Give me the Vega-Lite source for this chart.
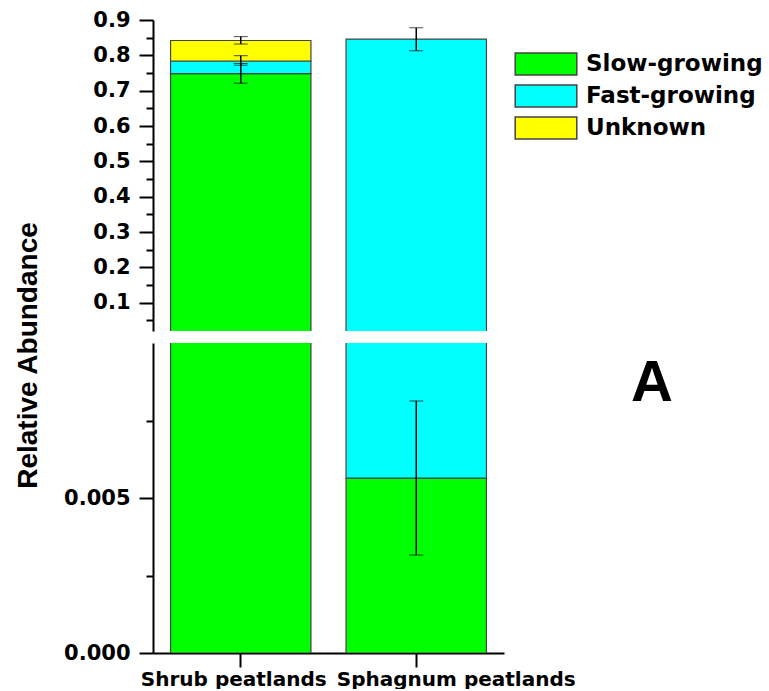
{
  "$schema": "https://vega.github.io/schema/vega-lite/v6.json",
  "padding": {"left": 14, "top": 9, "right": 0, "bottom": 0},
  "background": "white",
  "bounds": "flush",
  "datasets": {
    "bars": [
      {"group": "Shrub peatlands", "category": "Slow-growing", "rank": 1, "value": 0.748},
      {"group": "Shrub peatlands", "category": "Fast-growing", "rank": 2, "value": 0.036},
      {"group": "Shrub peatlands", "category": "Unknown", "rank": 3, "value": 0.058},
      {"group": "Sphagnum peatlands", "category": "Slow-growing", "rank": 1, "value": 0.00564},
      {"group": "Sphagnum peatlands", "category": "Fast-growing", "rank": 2, "value": 0.8404}
    ],
    "errs": [
      {"group": "Shrub peatlands", "category": "Slow-growing", "lo": 0.721, "hi": 0.777},
      {"group": "Shrub peatlands", "category": "Fast-growing", "lo": 0.772, "hi": 0.799},
      {"group": "Shrub peatlands", "category": "Unknown", "lo": 0.832, "hi": 0.853},
      {"group": "Sphagnum peatlands", "category": "Fast-growing", "lo": 0.813, "hi": 0.878},
      {"group": "Sphagnum peatlands", "category": "Slow-growing", "lo": 0.00316, "hi": 0.00813}
    ]
  },
  "config": {
    "view": {"stroke": null},
    "axis": {
      "domainColor": "black", "domainWidth": 2, "tickColor": "black", "tickWidth": 2,
      "labelColor": "black", "labelFont": "DejaVu Sans", "labelFontWeight": "bold", "labelFontSize": 21,
      "grid": false, "labelOverlap": false
    }
  },
  "spacing": 12,
  "vconcat": [
    {
      "width": 351,
      "height": 311,
      "layer": [
        {
          "data": {"name": "bars"},
          "mark": {"type": "bar", "clip": true, "stroke": "#444444", "strokeWidth": 1.2},
          "encoding": {
            "x": {"field": "group", "type": "nominal", "sort": ["Shrub peatlands", "Sphagnum peatlands"],
                  "scale": {"paddingInner": 0.2, "paddingOuter": 0.1}, "axis": null},
            "y": {"field": "value", "type": "quantitative", "stack": "zero",
                  "scale": {"domain": [0.02, 0.9], "zero": false, "nice": false},
                  "axis": {
                    "values": [0.05, 0.1, 0.15, 0.2, 0.25, 0.3, 0.35, 0.4, 0.45, 0.5, 0.55, 0.6, 0.65, 0.7, 0.75, 0.8, 0.85, 0.9],
                    "tickCount": 40,
                    "labelExpr": "round(datum.value*100) % 10 == 5 ? '' : format(datum.value, '.1f')",
                    "tickSize": {"condition": {"test": "round(datum.value*100) % 10 == 5", "value": 7}, "value": 14},
                    "labelPadding": 9, "labelOverlap": false,
                    "title": "Relative Abundance",
                    "titleFont": "Liberation Sans", "titleFontSize": 28, "titleFontWeight": "bold", "titleColor": "black",
                    "titleX": -125, "titleY": 335, "titleBaseline": "middle"
                  }},
            "color": {"field": "category", "type": "nominal",
                      "scale": {"domain": ["Slow-growing", "Fast-growing", "Unknown"], "range": ["#00FF00", "#00FFFF", "#FFFF00"]},
                      "legend": {
                        "title": null, "orient": "none", "legendX": 381, "legendY": 32,
                        "symbolType": "M-2.8,-1H2.8V1H-2.8Z", "symbolSize": 484,
                        "symbolStrokeColor": "#333333", "symbolStrokeWidth": 1.5, "symbolOpacity": 1,
                        "labelFont": "DejaVu Sans", "labelFontWeight": "bold", "labelFontSize": 23, "labelColor": "black",
                        "labelOffset": 28, "rowPadding": 4, "labelLimit": 300, "padding": 0
                      }},
            "order": {"field": "rank"}
          }
        },
        {
          "data": {"name": "errs"},
          "transform": [{"filter": "datum.hi > 0.02"}],
          "mark": {"type": "errorbar", "color": "black", "ticks": {"size": 14, "strokeWidth": 1.5}, "rule": {"strokeWidth": 1.5}},
          "encoding": {
            "x": {"field": "group", "type": "nominal", "sort": ["Shrub peatlands", "Sphagnum peatlands"]},
            "y": {"field": "lo", "type": "quantitative", "title": "Relative Abundance"},
            "y2": {"field": "hi"}
          }
        }
      ]
    },
    {
      "width": 351,
      "height": 310,
      "title": {"text": "A", "orient": "right", "angle": 0, "align": "center", "baseline": "middle", "anchor": "middle",
                "offset": 35, "dy": -114, "fontSize": 58, "font": "Liberation Sans", "fontWeight": "bold", "color": "black"},
      "layer": [
        {
          "data": {"name": "bars"},
          "mark": {"type": "bar", "clip": true, "stroke": "#444444", "strokeWidth": 1.2},
          "encoding": {
            "x": {"field": "group", "type": "nominal", "sort": ["Shrub peatlands", "Sphagnum peatlands"],
                  "scale": {"paddingInner": 0.2, "paddingOuter": 0.1},
                  "axis": {"title": null, "labelAngle": 0, "tickSize": 14, "labelPadding": 2, "labelFontSize": 20,
                           "labelOverlap": false, "labelBound": false, "labelLimit": 400,
                           "labelOffset": {"condition": {"test": "datum.value == 'Shrub peatlands'", "value": -7}, "value": 40}}},
            "y": {"field": "value", "type": "quantitative", "stack": "zero",
                  "scale": {"domain": [0, 0.01], "zero": false, "nice": false},
                  "axis": {
                    "values": [0, 0.0025, 0.005, 0.0075],
                    "tickCount": 10,
                    "labelExpr": "(datum.value == 0 || datum.value == 0.005) ? format(datum.value, '.3f') : ''",
                    "tickSize": {"condition": {"test": "datum.value == 0.0025 || datum.value == 0.0075", "value": 7}, "value": 14},
                    "labelPadding": 9, "labelOverlap": false,
                    "title": null
                  }},
            "color": {"field": "category", "type": "nominal",
                      "scale": {"domain": ["Slow-growing", "Fast-growing", "Unknown"], "range": ["#00FF00", "#00FFFF", "#FFFF00"]}},
            "order": {"field": "rank"}
          }
        },
        {
          "data": {"name": "errs"},
          "transform": [{"filter": "datum.hi < 0.01"}],
          "mark": {"type": "errorbar", "color": "black", "ticks": {"size": 14, "strokeWidth": 1.5}, "rule": {"strokeWidth": 1.5}},
          "encoding": {
            "x": {"field": "group", "type": "nominal", "sort": ["Shrub peatlands", "Sphagnum peatlands"]},
            "y": {"field": "lo", "type": "quantitative", "title": null},
            "y2": {"field": "hi"}
          }
        }
      ]
    }
  ]
}
